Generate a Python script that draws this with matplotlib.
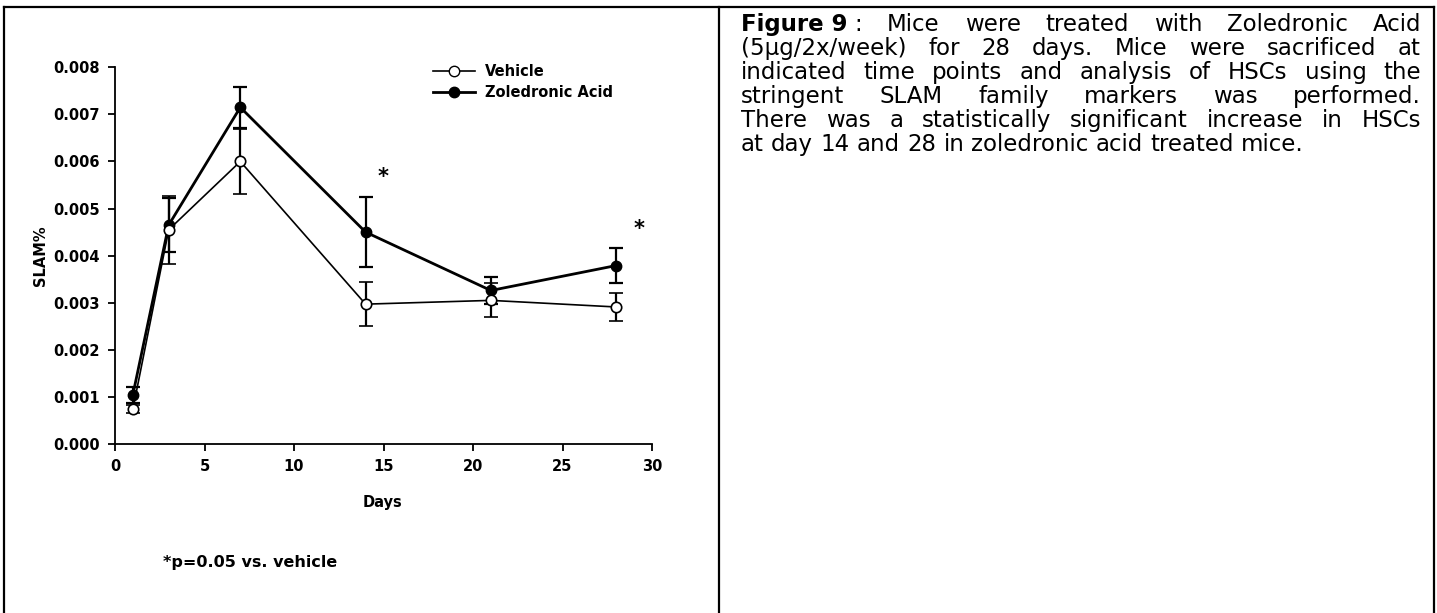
import numpy as np
import matplotlib
matplotlib.use('Agg')
from matplotlib import pyplot as plt
from matplotlib.lines import Line2D

plt.rcParams['font.family'] = ['DejaVu Sans']

# SLAM% per time point, mean and error
days = [1, 3, 7, 14, 21, 28]
vehicle = [0.00074, 0.00455, 0.0060, 0.00297, 0.00305, 0.00291]
vehicle_err = [0.00008, 0.00072, 0.0007, 0.00047, 0.00036, 0.00029]
zoledronic = [0.00105, 0.00465, 0.00715, 0.0045, 0.00326, 0.00379]
zoledronic_err = [0.00017, 0.00058, 0.00043, 0.00075, 0.00028, 0.00037]

x_ticks = [0, 5, 10, 15, 20, 25, 30]
y_ticks = [0.0, 0.001, 0.002, 0.003, 0.004, 0.005, 0.006, 0.007, 0.008]

# significance markers (day, height)
stars_x = [14.96, 29.3]
stars_y = [0.00568, 0.00456]

caption_lines = [
    ['Figure 9', ':', 'Mice', 'were', 'treated', 'with', 'Zoledronic', 'Acid'],
    ['(5µg/2x/week)', 'for', '28', 'days.', 'Mice', 'were', 'sacrificed', 'at'],
    ['indicated', 'time', 'points', 'and', 'analysis', 'of', 'HSCs', 'using', 'the'],
    ['stringent', 'SLAM', 'family', 'markers', 'was', 'performed.'],
    ['There', 'was', 'a', 'statistically', 'significant', 'increase', 'in', 'HSCs'],
    ['at', 'day', '14', 'and', '28', 'in', 'zoledronic', 'acid', 'treated', 'mice.'],
]

W, H = 1437, 613
figure = plt.figure(figsize=(W / 100, H / 100), dpi=100)


def fx(px):
    return px / W


def fy(py):
    return 1 - py / H


# Chart axes
axes = figure.add_axes([fx(115), fy(444), fx(652) - fx(115), fy(67.3) - fy(444)])
axes.errorbar(days, zoledronic, yerr=zoledronic_err, color='black', linewidth=2,
              marker='o', markersize=7.5, markerfacecolor='black', markeredgecolor='black',
              elinewidth=1.6, capsize=5, capthick=1.6, label='Zoledronic Acid', zorder=3)
axes.errorbar(days, vehicle, yerr=vehicle_err, color='black', linewidth=1.2,
              marker='o', markersize=7.5, markerfacecolor='white', markeredgecolor='black',
              markeredgewidth=1.2, elinewidth=1.6, capsize=5, capthick=1.6,
              label='Vehicle', zorder=4)

axes.set_xlim(0, 30)
axes.set_ylim(0, 0.008)
axes.set_xticks(x_ticks)
axes.set_yticks(y_ticks)
axes.set_yticklabels(['%.3f' % v for v in y_ticks])
for side in ['top', 'right']:
    axes.spines[side].set_visible(False)
for side in ['left', 'bottom']:
    axes.spines[side].set_linewidth(1.3)
axes.tick_params(direction='out', length=5, width=1.3, labelsize=10.5, pad=6)
for label in axes.get_xticklabels() + axes.get_yticklabels():
    label.set_fontweight('bold')

for sx, sy in zip(stars_x, stars_y):
    axes.text(sx, sy, '*', ha='center', va='center', fontsize=15, fontweight='bold')

handles = [
    Line2D([], [], color='black', linewidth=1.2, marker='o', markersize=7.5,
           markerfacecolor='white', markeredgecolor='black'),
    Line2D([], [], color='black', linewidth=2, marker='o', markersize=7.5,
           markerfacecolor='black', markeredgecolor='black'),
]
legend = axes.legend(handles, ['Vehicle', 'Zoledronic Acid'], loc='upper left',
                     bbox_to_anchor=(0.592, 1.009), frameon=False, borderpad=0,
                     borderaxespad=0, handlelength=2.9, handletextpad=0.7,
                     labelspacing=0.45, prop={'weight': 'bold', 'size': 10.5})

figure.text(fx(383), fy(502), 'Days', ha='center', va='center', fontsize=10.5,
            fontweight='bold')
figure.text(fx(40), fy(256), 'SLAM%', ha='center', va='center', rotation=90,
            fontsize=10.5, fontweight='bold')
figure.text(fx(163), fy(562), '*p=0.05 vs. vehicle', ha='left', va='center',
            fontsize=11.5, fontweight='bold')

# Table frame around the chart and caption
frame = dict(color='black', linewidth=1.6, solid_capstyle='projecting')
figure.add_artist(Line2D([fx(4), fx(1434)], [fy(7), fy(7)], **frame))
figure.add_artist(Line2D([fx(4), fx(4)], [fy(7), 0], **frame))
figure.add_artist(Line2D([fx(719), fx(719)], [fy(7), 0], **frame))
figure.add_artist(Line2D([fx(1434), fx(1434)], [fy(7), 0], **frame))

# Justified caption on the right
renderer = figure.canvas.get_renderer()
cap_size = 16.5
left, right = 741, 1421
baselines = [31, 55, 79, 103, 127, 151]


def word_width(word, weight):
    t = figure.text(0, 0, word, fontsize=cap_size, fontweight=weight)
    w = t.get_window_extent(renderer).width
    t.remove()
    return w


space = word_width('a a', 'normal') - word_width('aa', 'normal')
for i, words in enumerate(caption_lines):
    weights = ['bold' if w == 'Figure 9' else 'normal' for w in words]
    widths = [word_width(w, wt) for w, wt in zip(words, weights)]
    # the colon after "Figure 9" keeps a normal space
    fixed = [j for j in range(len(words) - 1) if words[j] == 'Figure 9']
    n_free = len(words) - 1 - len(fixed)
    if i < len(caption_lines) - 1:
        gap = (right - left - sum(widths) - space * len(fixed)) / n_free
    else:
        gap = space
    x = left
    for j, (word, wt, w) in enumerate(zip(words, weights, widths)):
        figure.text(fx(x), fy(baselines[i]), word, fontsize=cap_size, fontweight=wt,
                    ha='left', va='baseline')
        x += w + (space if j in fixed else gap)

figure.savefig('out.png', dpi=100)
